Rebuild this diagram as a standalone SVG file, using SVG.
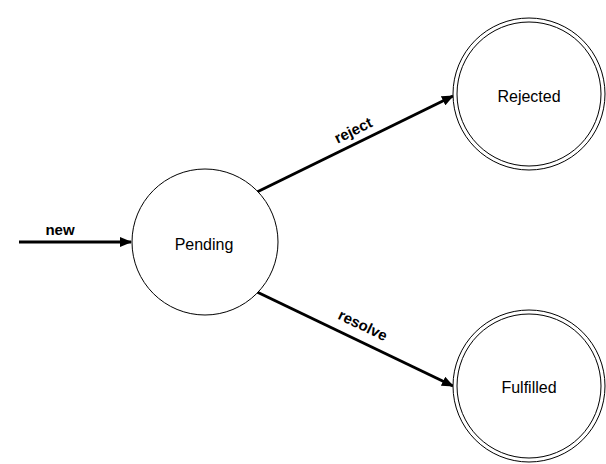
<svg xmlns="http://www.w3.org/2000/svg" width="606" height="464" viewBox="0 0 606 464">
<style>
.st{fill:#fff;stroke:#000;stroke-width:1}
.lbl{font-family:"Liberation Sans",Arial,sans-serif;font-size:16px;fill:#000;text-anchor:middle;dominant-baseline:central}
.el{font-family:"Liberation Sans",Arial,sans-serif;font-size:15px;font-weight:bold;fill:#000;text-anchor:middle;dominant-baseline:central}
.edge{fill:none;stroke:#000;stroke-width:3;marker-end:url(#ah)}
</style>
<defs>
<marker id="ah" markerWidth="12" markerHeight="10" refX="11" refY="5" orient="auto" markerUnits="userSpaceOnUse">
<path d="M0,0 L12,5 L0,10 Z" fill="#000"/>
</marker>
</defs>
<rect width="606" height="464" fill="#fff"/>
<g id="connectors">
<line class="edge" x1="19" y1="242" x2="131" y2="242"/>
<line class="edge" x1="257" y1="192" x2="453" y2="96"/>
<line class="edge" x1="257" y1="292" x2="453" y2="386"/>
<text class="el" x="60" y="229">new</text>
<text class="el" x="353" y="130" transform="rotate(-26 353 130)">reject</text>
<text class="el" x="363" y="325" transform="rotate(25.6 363 325)">resolve</text>
</g>
<g id="pending">
<circle class="st" cx="205" cy="242" r="73"/>
<text class="lbl" x="204" y="244">Pending</text>
</g>
<g id="rejected">
<circle class="st" cx="529" cy="94" r="76"/>
<circle class="st" cx="529" cy="94" r="72"/>
<text class="lbl" x="529" y="96">Rejected</text>
</g>
<g id="fulfilled">
<circle class="st" cx="529" cy="386" r="76"/>
<circle class="st" cx="529" cy="386" r="72"/>
<text class="lbl" x="529" y="387">Fulfilled</text>
</g>
</svg>
